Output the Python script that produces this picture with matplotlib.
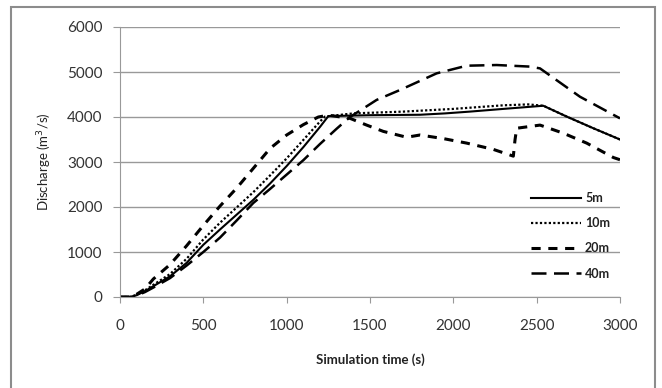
import matplotlib
matplotlib.use('Agg')
from matplotlib import pyplot as plt
from matplotlib.patches import Rectangle

# Data (time in s, discharge in m3/s)
t_5m = [0, 60, 100, 150, 200, 300, 400, 500, 600, 700, 800, 900, 1000, 1100, 1200, 1250,
        1500, 1800, 1950, 2100, 2300, 2540, 2680, 2840, 3000]
q_5m = [0, 0, 40, 130, 240, 460, 760, 1160, 1500, 1830, 2160, 2520, 2910, 3330, 3780, 4020,
        4040, 4050, 4080, 4120, 4180, 4250, 4010, 3750, 3500]

t_10m = [0, 60, 100, 150, 200, 300, 400, 500, 600, 700, 800, 900, 1000, 1100, 1200, 1230,
         1400, 1700, 2000, 2300, 2450, 2540, 2680, 2840, 3000]
q_10m = [0, 0, 50, 150, 270, 510, 850, 1280, 1650, 1990, 2330, 2700, 3080, 3490, 3900, 4010,
         4080, 4120, 4180, 4260, 4280, 4250, 4010, 3750, 3500]

t_20m = [0, 60, 100, 150, 200, 300, 400, 500, 600, 700, 800, 900, 1000, 1100, 1190, 1250,
         1380, 1480, 1580, 1720, 1800, 1940, 2080, 2240, 2360, 2370, 2380, 2520, 2660, 2800,
         2960, 3000]
q_20m = [0, 0, 60, 180, 400, 720, 1140, 1590, 2020, 2420, 2860, 3300, 3600, 3830, 4000, 4040,
         3970, 3820, 3680, 3550, 3600, 3520, 3420, 3280, 3130, 3490, 3750, 3820, 3640, 3420,
         3100, 3050]

t_40m = [0, 80, 150, 200, 300, 400, 500, 600, 700, 800, 900, 1000, 1100, 1200, 1300, 1380,
         1540, 1680, 1900, 2080, 2260, 2460, 2520, 2760, 3000]
q_40m = [0, 0, 110, 210, 420, 700, 1000, 1320, 1700, 2090, 2400, 2720, 3040, 3400, 3740, 4000,
         4380, 4600, 4970, 5140, 5155, 5120, 5080, 4450, 3970]

series = [
    ("5m", t_5m, q_5m, dict(linestyle='-', linewidth=1.5)),
    ("10m", t_10m, q_10m, dict(linestyle=(0, (1, 1)), linewidth=1.6)),
    ("20m", t_20m, q_20m, dict(linestyle=(0, (3, 2.5)), linewidth=2.2)),
    ("40m", t_40m, q_40m, dict(linestyle=(0, (6, 3)), linewidth=1.8)),
]

plt.rcParams['font.family'] = ['Lato', 'DejaVu Sans']

fig = plt.figure(figsize=(6.62, 3.88), dpi=100)
ax = fig.add_axes([120 / 662, 91 / 388, 500 / 662, 270 / 388])

# outer frame
fig.patches.append(Rectangle((11 / 662, -0.05), 644 / 662, (381 / 388) + 0.05,
                             transform=fig.transFigure, fill=False,
                             edgecolor='#8c8c8c', linewidth=1.5))

for label, t, q, style in series:
    ax.plot(t, q, color='black', label=label, **style)

ax.set_xlim(0, 3000)
ax.set_ylim(0, 6000)
ax.set_xticks(range(0, 3001, 500))
ax.set_yticks(range(0, 6001, 1000))
ax.yaxis.grid(True, color='#999999', linewidth=1)
ax.set_axisbelow(True)

for s in ['top', 'right']:
    ax.spines[s].set_visible(False)
for s in ['left', 'bottom']:
    ax.spines[s].set_color('#999999')
ax.tick_params(axis='x', colors='#999999', length=4, labelcolor='#333333', labelsize=11, pad=12)
ax.tick_params(axis='y', colors='#999999', length=5, labelcolor='#333333', labelsize=11, pad=7.5)

ax.set_xlabel('Simulation time (s)', fontsize=9.5, color='#222222', fontweight='bold')
ax.xaxis.set_label_coords(0.5, -0.233)
ax.xaxis.label.set_verticalalignment('center')
ax.set_ylabel('Discharge (m$^3$/s)', fontsize=9.5, color='#222222')
ax.yaxis.set_label_coords(-0.15, 0.5)
ax.yaxis.label.set_verticalalignment('center')

leg = ax.legend(loc='upper left', bbox_to_anchor=(0.80, 0.43), frameon=False,
                handlelength=4.0, handletextpad=0.3, labelspacing=1.05,
                prop={'size': 9, 'weight': 'bold'})
for txt in leg.get_texts():
    txt.set_color('#222222')

fig.savefig('out.png', dpi=100)
